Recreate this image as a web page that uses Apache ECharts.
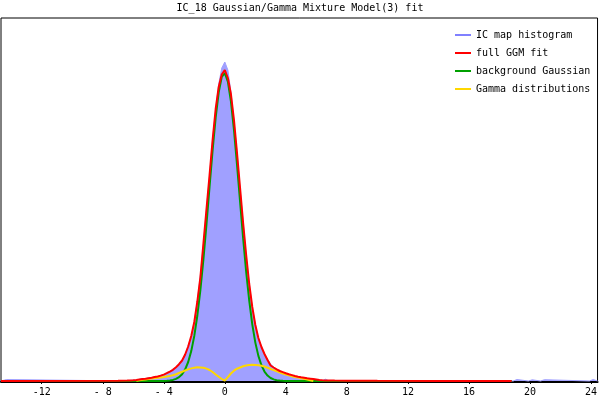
<!DOCTYPE html>
<html>
<head>
<meta charset="utf-8">
<script src="https://cdn.jsdelivr.net/npm/echarts@6/dist/echarts.min.js"></script>
<style>html,body{margin:0;padding:0;background:#fff}#c{width:600px;height:400px}</style>
</head>
<body>
<div id="c"></div>
<script>
// bin centres of the central region
const bins = [-6.0,-5.8,-5.6,-5.4,-5.2,-5.0,-4.8,-4.6,-4.4,-4.2,-4.0,-3.8,-3.6,-3.4,-3.2,-3.0,-2.8,-2.6,-2.4,-2.2,-2.0,-1.8,-1.6,-1.4,-1.2,-1.0,-0.8,-0.6,-0.4,-0.2,0.0,0.2,0.4,0.6,0.8,1.0,1.2,1.4,1.6,1.8,2.0,2.2,2.4,2.6,2.8,3.0,3.2,3.4,3.6,3.8,4.0,4.2,4.4,4.6,4.8,5.0,5.2,5.4,5.6,5.8,6.0];
const histVals = [1.0,0.5,1.8,2.5,1.8,3.5,2.9,4.5,4.0,5.9,6.0,8.5,9.0,12.0,13.2,17.5,21.0,26.0,35.5,44,60,80,106,137,173,205,242,271,297,313,319,311,289,260,229,192,159,125,98,73,57,42,35,26,22,17,14,11,10.5,8.5,8,6.5,6,4.6,4.5,3.5,3.3,2.5,2.0,2.1,1.2];
const fullVals = [0.8,1.1,1.5,1.9,2.3,2.8,3.3,3.9,4.5,5.4,6.4,7.8,9.4,11.2,13.8,16.8,20.5,26.5,34.5,45,59,79.5,104,138,172,206,241,272,294,306.5,311,303,287,261,228,193,158,126,97,74,56,43,34,27,21,15.5,13.5,11.6,10.0,8.9,7.8,6.8,5.9,5.0,4.3,3.7,3.2,2.7,2.3,1.9,1.5];
const gaussVals = [0,0,0,0,0,0,0,0,0,0,0.05,0.26,0.55,1.1,2.1,3.85,6.8,11.6,19.0,29.9,45.1,65.5,91.2,122.2,157.2,194.3,230.8,263.3,288.6,304.1,307.8,299.3,279.6,251.0,216.4,179.4,142.8,109.2,80.3,56.7,38.4,25.1,15.7,9.45,5.46,3.03,1.62,0.83,0.41,0.19,0.1,0,0,0,0,0,0,0,0,0,0];
const gammaVals = [0,0.2,0.7,1.2,1.6,2.0,2.4,2.8,3.2,3.6,4.0,4.5,5.1,5.8,6.8,8.0,9.2,10.5,11.6,12.6,13.3,13.7,13.6,13.3,12.4,11.0,9.0,6.5,4.2,2.0,0.3,3.8,7.5,10.3,12.3,13.5,14.7,15.5,16.0,16.3,16.1,15.8,15.2,14.5,13.3,12.0,10.9,9.8,8.5,7.5,6.5,5.7,4.8,4.0,3.4,2.8,2.2,1.5,0.8,0,0];
// sparse tails, [x, value]
const histLeftTail = [[-14.67,0],[-14.6,1.5],[-14.3,1.5],[-14.2,0],[-6.4,0],[-6.2,0.6]];
const histRightTail = [[6.2,1.0],[6.4,0.5],[6.6,1.8],[6.8,0.3],[7.0,0],[18.9,0],[18.95,1.5],[19.15,1.5],[19.2,0],[19.9,0],[19.95,1.2],[20.15,1.2],[20.2,0],[20.7,0],[20.75,1.3],[20.95,1.3],[21.0,0],[23.9,0],[23.95,1.5],[24.15,1.5],[24.2,0],[24.43,0]];
const fullLeftTail = [[-14.67,0],[-7.0,0.3],[-6.4,0.5],[-6.2,0.6]];
const fullRightTail = [[6.2,1.1],[6.4,0.8],[6.6,0.6],[6.8,0.5],[7.2,0.4],[8.0,0.3],[10.0,0.2],[14.0,0.1],[18.8,0.1]];
const gaussLeftTail = [[-14.08,0]];
const gaussRightTail = [[18.8,0]];
const tickValues = [-12,-8,-4,0,4,8,12,16,20,24];
const tickLabels = ['-12','- 8','- 4','0','4','8','12','16','20','24'];
const seriesNames = ['IC map histogram','full GGM fit','background Gaussian','Gamma distributions'];

function zip(xs, ys){ return xs.map((x,i)=>[x, ys[i]]); }
const histData = histLeftTail.concat(zip(bins, histVals), histRightTail);
const fullData = fullLeftTail.concat(zip(bins, fullVals), fullRightTail);
const gaussData = gaussLeftTail.concat(zip(bins, gaussVals), gaussRightTail);
const gammaData = zip(bins, gammaVals).filter(p => p[0] >= -5.8 && p[0] <= 5.8);

const font = 'DejaVu Sans Mono';
const chart = echarts.init(document.getElementById('c'), null, {renderer:'canvas'});
chart.setOption({
  animation: false,
  backgroundColor: '#fff',
  title: {
    text: 'IC_18 Gaussian/Gamma Mixture Model(3) fit',
    left: 'center', top: 2, padding: 0,
    textStyle: {fontFamily: font, fontSize: 10, fontWeight: 'normal', color: '#000', lineHeight: 13}
  },
  legend: {
    orient: 'vertical', left: 450, top: 24,
    icon: 'rect', itemWidth: 16, itemHeight: 2, itemGap: 6,
    textStyle: {fontFamily: font, fontSize: 10, color: '#000', lineHeight: 12},
    data: [
      {name: seriesNames[0], itemStyle: {color: '#8080ff'}},
      {name: seriesNames[1], itemStyle: {color: '#ff0000'}},
      {name: seriesNames[2], itemStyle: {color: '#00a000'}},
      {name: seriesNames[3], itemStyle: {color: '#ffd700'}}
    ]
  },
  grid: {left: 1, right: 2, top: 18, bottom: 18, show: true, borderColor: '#000', borderWidth: 1, containLabel: false},
  xAxis: {
    type: 'value', min: -14.67, max: 24.43,
    splitLine: {show: false},
    axisLine: {show: true, onZero: false, lineStyle: {color: '#000', width: 2}},
    axisTick: {show: true, customValues: tickValues, length: 2, lineStyle: {color: '#000'}},
    axisLabel: {
      customValues: tickValues, margin: 5,
      fontFamily: font, fontSize: 10, color: '#000',
      formatter: v => { const i = tickValues.indexOf(Math.round(v)); return i >= 0 ? tickLabels[i] : ''; }
    }
  },
  yAxis: {type: 'value', min: -1, max: 363, show: false, splitLine: {show: false}},
  series: [
    {name: seriesNames[0], type: 'line', data: histData, symbol: 'none',
     color: '#8080ff', lineStyle: {width: 1, color: '#a0a0ff'}, areaStyle: {color: '#a0a0ff', opacity: 1}, z: 1},
    {name: seriesNames[2], type: 'line', data: gaussData, symbol: 'none',
     color: '#00a000', lineStyle: {width: 2, color: '#00a000'}, z: 2},
    {name: seriesNames[3], type: 'line', data: gammaData, symbol: 'none',
     color: '#ffd700', lineStyle: {width: 2, color: '#ffd700'}, z: 3},
    {name: seriesNames[1], type: 'line', data: fullData, symbol: 'none',
     color: '#ff0000', lineStyle: {width: 2, color: '#ff0000'}, z: 4}
  ]
});
</script>
</body>
</html>
